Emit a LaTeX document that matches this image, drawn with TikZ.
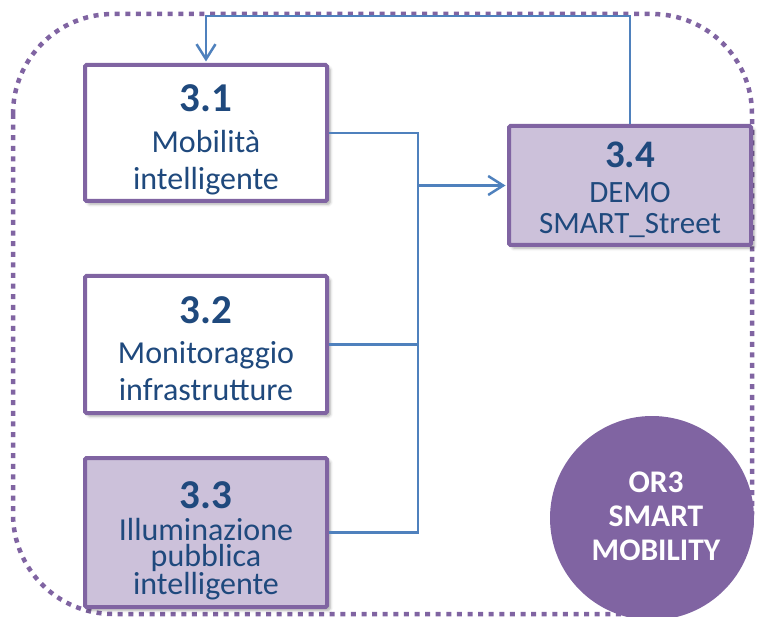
\documentclass[tikz,border=0pt]{standalone}
\usepackage{fontspec}
\setmainfont{Carlito}
\usetikzlibrary{arrows.meta,shadows.blur}
\definecolor{orpurple}{HTML}{8064A2}
\definecolor{orlav}{HTML}{CCC1DA}
\definecolor{orblue}{HTML}{4F81BD}
\definecolor{ortext}{HTML}{1F497D}
\newcommand\bnum[2][41]{{\fontsize{#1}{#1}\selectfont\bfseries #2}}
\tikzset{
  box/.style={draw=orpurple, line width=4pt, rounded corners=1.5pt, minimum width=242pt, inner sep=0pt,
    blur shadow={shadow xshift=3pt, shadow yshift=-3pt, shadow blur radius=3pt, shadow opacity=35}},
  wbox/.style={box, fill=white},
  lbox/.style={box, fill=orlav},
  txt/.style={anchor=north, align=center, inner sep=0pt, text=ortext, font=\fontsize{32}{37}\selectfont},
  conn/.style={draw=orblue, line width=2.5pt},
  tip/.style={-{Straight Barb[length=15pt,width=19pt]}, shorten >=1.5pt},
  frame/.style={draw=orpurple, line width=4.5pt, dash pattern=on 5pt off 5.6pt, rounded corners=100pt},
  badge/.style={circle, fill=orpurple, minimum size=204pt, inner sep=0pt},
  badgetxt/.style={anchor=north, align=center, inner sep=0pt, text=white, font=\fontsize{31.5}{34}\selectfont\bfseries}
}
\begin{document}
\begin{tikzpicture}[x=1pt,y=-1pt]
\useasboundingbox (0,0) rectangle (757,617);
% dotted frame
\draw[frame] (13,14) rectangle (752,614);
% badge
\node[badge] (c) at (652,518) {};
\node[badgetxt] (ct) at (656,472) {OR3\\SMART\\MOBILITY};
% boxes
\node[wbox, minimum height=136pt] (b1) at (206,133) {};
\node[wbox, minimum height=137pt] (b2) at (206,344.5) {};
\node[lbox, minimum height=149pt] (b3) at (206,532.5) {};
\node[lbox, minimum height=119pt] (b4) at (630,185.5) {};
% texts
\node[txt] (t1) at (206,84) {\bnum{3.1}\\[4pt]Mobilità\\intelligente};
\node[txt] (t2) at (206,296) {\bnum{3.2}\\[3pt]Monitoraggio\\infrastrutture};
\node[txt, font=\fontsize{32}{26.5}\selectfont] (t3) at (206,481) {\bnum{3.3}\\[5.5pt]Illuminazione\\pubblica\\intelligente};
\node[txt, font=\fontsize{31}{31}\selectfont] (t4) at (630,142) {\bnum[39]{3.4}\\[4pt]DEMO\\SMART\_Street};
% connectors
\coordinate (tr) at (418,0);
\coordinate (top) at (0,16);
\draw[conn] (b1.east) -- (b1.east -| tr) -- (b3.east -| tr) -- (b3.east);
\draw[conn] (b2.east) -- (b2.east -| tr);
\draw[conn, tip] (b4.west -| tr) -- (b4.west);
\draw[conn, tip] (b4.north) -- (b4.north |- top) -- (b1.north |- top) -- (b1.north);
\end{tikzpicture}
\end{document}
